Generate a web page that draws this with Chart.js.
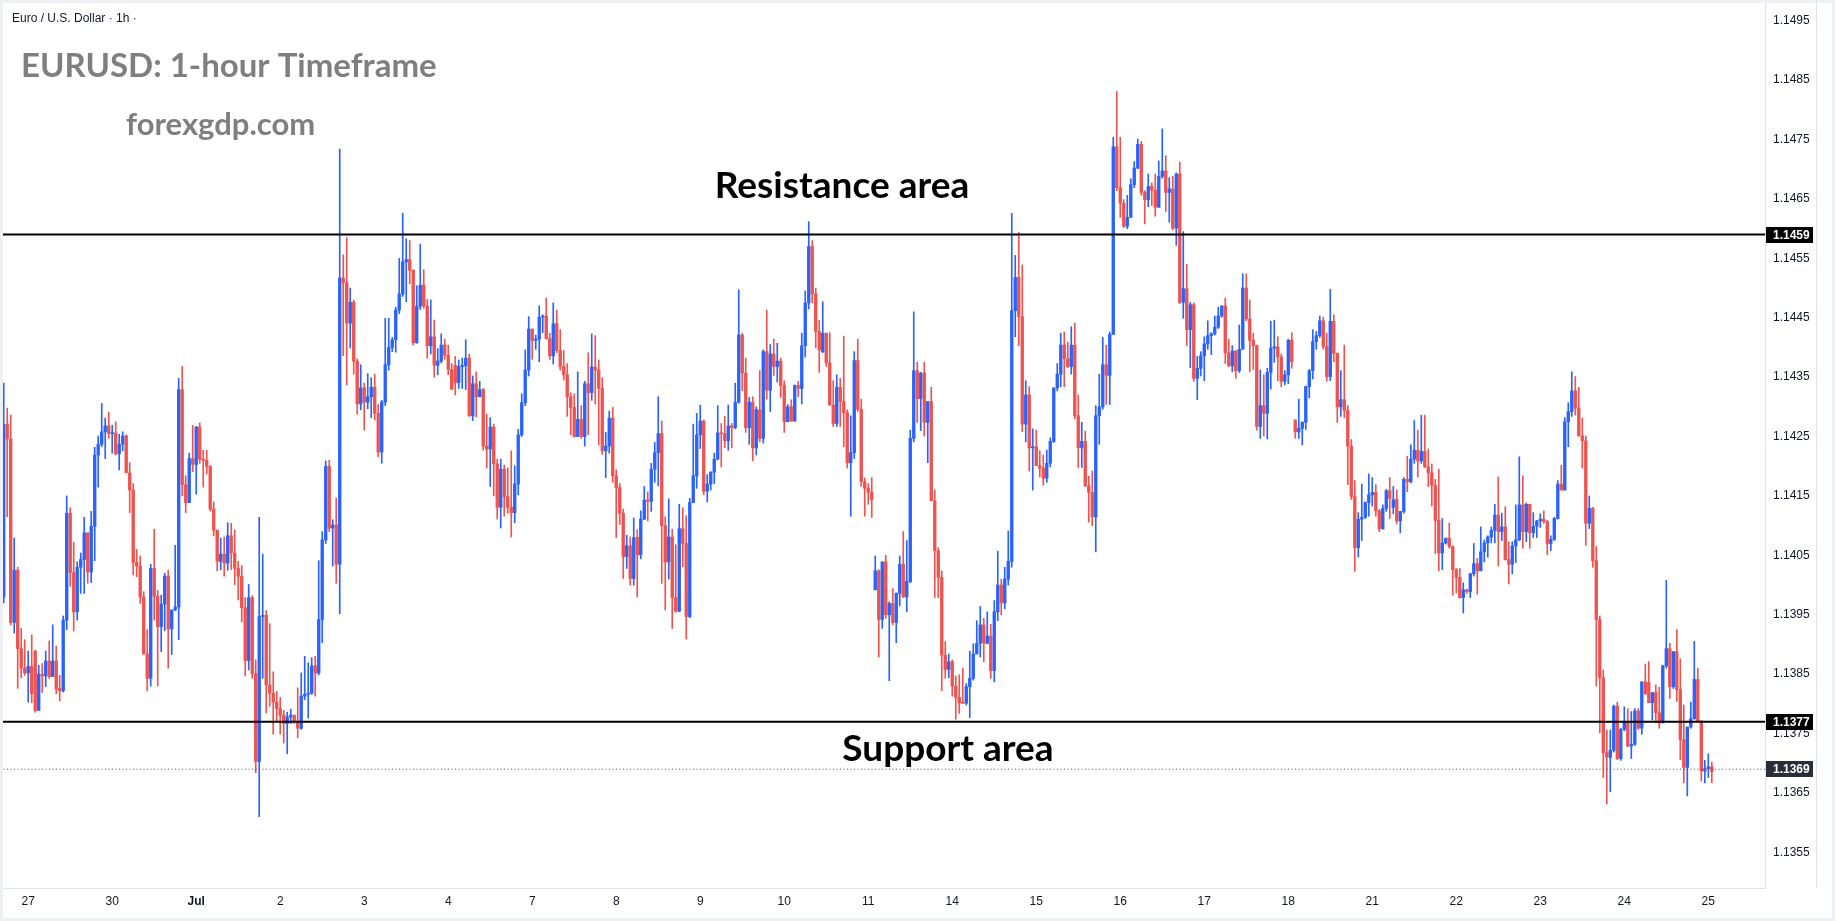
<!DOCTYPE html>
<html>
<head>
<meta charset="utf-8">
<title>EURUSD 1-hour</title>
<script src="https://cdn.jsdelivr.net/npm/chart.js@4.4.1/dist/chart.umd.min.js"></script>
<style>
  html, body { margin: 0; padding: 0; background: #fff; }
  canvas { display: block; }
</style>
</head>
<body>
<canvas id="chart" width="1835" height="921"></canvas>
<script>
// prices are stored as pips above 1.1300 (e.g. 159 -> 1.1459), one line per trading day
const BASE = 1.13;

const opens = [
  98,127.1,124.6,93.7,102.5,89.3,86.0,
  85.2,86.3,88.9,78.9,85.0,84.7,87.2,84.6,87.2,82.6,82.2,94.1,112.1,102.1,95.5,103.0,104.3,108.8,102.2,109.9,121.9,123.7,125.8,126.8,
  125.5,125.6,122.1,123.7,125.1,118.9,116.0,103.8,103.2,98.0,88.4,84.3,102.8,98.1,93.0,96.8,101.5,92.6,95.8,96.3,132.9,116.9,113.9,121.3,
  120.3,126.6,121.2,121.0,120.0,112.8,109.2,104.0,105.2,103.7,108.3,105.4,102.8,101.5,96.2,87.3,97.9,85.1,70.3,94.7,94.9,83.2,81.8,80.3,
  79.2,78.1,76.7,77.8,78.1,77.0,75.9,81.3,81.6,81.8,86.4,85.2,94.2,107.6,120.0,109.6,110.1,103.5,151.7,150.9,144.1,147.6,137.7,130.5,
  133.2,130.8,131.7,133.3,128.9,122.4,130.8,137.1,140.0,141.3,146.3,149.0,154.4,154.8,153.0,140.8,146.9,150.5,147.0,140.3,141.8,137.0,137.7,140.4,
  138.7,136.3,137.0,134.1,136.8,136.9,138.2,128.5,133.9,131.7,132.9,123.4,122.9,126.6,120.4,113.1,119.5,114.9,113.1,112.2,117.0,125.3,130.7,136.2,
  143.1,141.2,141.4,145.1,145.3,141.5,138.6,144.0,139.5,136.8,135.4,131.7,129.9,125.0,127.9,125.0,133.9,132.4,136.7,136.2,133.1,122.6,123.4,128.1,
  118.4,116.4,112.1,104.8,106.6,101.1,108.0,105.1,111.1,114.3,114.1,119.5,122.3,125.5,110.0,103.9,108.1,97.9,95.6,109.5,107.0,94.7,113.9,118.4,
  125.3,127.6,115.8,117.0,119.0,121.2,125.6,125.5,124.3,126.8,126.5,130.8,142.1,135.7,126.5,130.8,123.1,129.5,124.7,139.3,132.8,138.9,136.8,137.7,
  133.6,127.5,130.0,127.6,133.6,133.1,140.3,147.5,157.0,149.0,142.7,139.3,142.4,137.4,130.3,127.2,133.3,130.9,129.0,120.6,122.3,137.8,129.6,117.4,
  116.3,115.6,99.2,102.4,94.2,103.9,95.0,96.9,93.7,98.6,103.5,98.0,100.6,124.7,136.1,131.4,135.7,127.4,130.9,114.2,105.8,101.3,88.2,85.8,
  87.1,83.0,81.1,80.3,80.1,82.9,84.3,88.4,90.2,93.3,90.2,91.4,85.6,95.5,100.0,97.0,101.0,104.0,146.2,151.8,145.2,127.1,132.0,123.1,
  123.3,120.1,119.7,118.0,120.5,124.2,133.2,135.5,140.4,138.1,136.8,140.4,128.5,123.1,124.2,116.7,115.6,111.5,128.5,130.0,137.1,135.3,142.2,173.8,
  166.9,164.3,160.4,161.9,167.4,170.2,174.2,166.1,164.9,167.1,166.5,163.6,168.8,169.7,166.1,166.7,160.1,169.2,147.6,149.9,143.0,147.2,134.8,136.5,
  138.6,140.6,142.0,142.3,143.4,145.3,147.0,139.1,136.9,139.4,136.1,139.7,150.0,144.8,141.2,140.3,126.7,130.2,128.9,135.8,139.9,140.1,138.4,134.3,
  135.4,141.2,127.8,125.8,126.4,127.4,133.4,136.1,141.0,142.0,144.5,140.2,135.1,144.4,139.0,130.0,131.2,129.4,123.4,114.9,106.3,111.1,111.4,113.9,
  115.2,115.6,112.5,109.5,112.9,115.9,113.1,114.4,110.8,112.4,117.8,117.4,121.2,122.7,120.9,122.5,119.9,118.9,116.8,110.9,105.4,107.1,107.9,106.5,
  102.6,101.3,97.9,99.2,98.9,101.9,103.6,102.4,105.6,107.1,108.1,109.2,111.8,109.0,109.8,104.3,103.5,106.6,107.6,113.5,109.0,113.6,108.8,109.9,
  110.8,111.1,110.7,107.0,107.7,111.2,117.0,116.0,127.5,129.2,132.7,129.8,125.1,124.3,110.4,112.9,104.1,94.2,84.4,71.8,71.0,72.2,79.6,70.8,
  75.7,77.0,72.9,73.2,78.8,75.9,83.7,83.6,80.2,81.9,78.5,76.8,86.4,89.3,82.9,88.8,82.4,74.0,69.3,76.1,77.5,84.1,77.1,68.7,
  69.1,69.4
];

const highs = [
  134,129.8,128.6,107.9,103,92.7,90.8,
  88.9,91.6,89.0,86.5,86.8,88.9,90.6,93.3,89.7,84.8,94.8,115.0,113.0,107.2,103.9,105.4,111.4,108.8,112.4,123.2,125.1,130.6,128.1,129.1,
  126.9,127.5,125.4,125.8,125.3,120.6,117.1,106.0,104.9,98.9,92.5,103.5,109.4,99.1,98.3,102.0,102.5,95.8,106.7,134.8,136.8,118.4,122.2,126.9,
  126.7,127.3,122.7,122.7,120.1,114.0,109.3,107.9,108.1,110.5,110.4,109.3,104.0,103.3,97.9,100.1,98.2,87.4,111.4,105.2,95.7,93.5,85.4,82.1,
  81.1,78.9,78.6,79.1,78.1,82.7,85.2,88.0,86.9,87.8,88.0,104.1,109.0,120.9,121.0,111.0,114.7,173.4,155.6,158.5,150.0,148.0,138.1,137.1,
  134.0,135.6,134.9,135.5,130.4,131.1,144.9,144.9,141.7,146.8,155.0,162.6,158.3,158.0,153.1,150.4,157.4,153.1,148.1,148.0,144.6,139.8,142.3,141.4,
  140.4,137.3,138.5,137.9,138.2,141.3,138.9,135.2,135.9,134.3,133.1,128.8,128.2,127.1,121.2,121.2,120.2,119.7,122.6,120.1,126.2,132.2,139.6,145.2,
  143.1,142.1,147.0,145.5,148.3,142.4,147.5,146.3,143.0,139.5,137.3,132.4,132.2,135.9,130.2,134.3,139.1,142.3,142.0,137.9,134.9,125.7,129.3,129.9,
  119.4,117.1,112.8,108.4,108.1,111.3,109.3,112.5,116.6,115.7,120.5,124.0,131.7,127.6,111.5,114.5,109.4,106.8,113.6,113.0,111.7,114.6,127.1,128.9,
  130.3,127.8,118.6,119.1,122.2,130.2,127.2,128.4,130.3,127.2,134.0,149.7,142.4,138.2,131.6,131.7,130.0,136.1,139.6,146.3,140.5,141.4,140.7,138.2,
  134.4,130.4,131.2,133.7,134.3,142.4,149.5,161.2,158.0,150.0,144.6,147.7,142.4,142.5,134.4,135.4,134.8,141.9,129.5,128.5,139.3,141.4,131.3,118.0,
  117.1,118.1,104.9,102.6,103.9,105.0,97.2,99.4,98.7,104.9,109.0,107.5,126.1,146.0,137.5,135.8,137.5,130.9,133.3,116.0,106.3,102.4,90.5,88.4,
  87.4,84.7,84.9,86.0,83.4,88.9,90.1,94.0,96.4,94.4,95.5,93.4,97.4,105.7,101.0,103.0,109.1,162.6,155.5,159.4,153.9,134.4,133.4,126.3,
  126.1,122.6,121.9,122.7,124.8,133.2,137.3,142.4,142.6,140.9,143.5,144.1,132.0,127.4,125.9,118.3,119.2,130.2,135.5,141.7,140.4,142.6,175.4,183.1,
  175.4,164.9,165.6,168.4,171.3,175.1,174.7,166.4,169.2,167.7,169.2,171.4,176.8,172.3,168.6,168.8,169.4,171.2,159.5,154.0,147.6,147.5,138.5,139.3,
  141.8,144.5,142.5,145.3,146.8,147.0,148.3,141.4,140.3,139.5,143.8,152.4,152.4,148.0,142.4,140.4,136.2,135.4,136.5,144.4,144.6,141.8,138.9,136.1,
  141.4,142.5,127.8,131.3,127.5,133.5,136.3,143.0,142.7,145.3,145.1,142.4,149.8,145.5,139.1,136.1,140.4,130.2,124.5,117.6,112.2,117.0,114.0,118.7,
  118.1,116.9,112.7,113.5,116.1,118.1,116.6,116.0,112.4,118.1,121.7,123.6,127.7,126.1,128.6,128.6,122.9,120.4,117.8,119.5,111.2,107.9,110.4,106.6,
  102.8,102.8,100.4,99.3,102.0,107.0,104.5,109.8,107.6,108.3,109.8,113.6,118.2,112.1,113.2,107.3,107.3,113.5,121.6,118.4,113.8,113.6,112.2,110.9,
  112.0,112.5,110.9,108.3,111.4,117.6,120.2,128.2,130.7,135.9,135.1,133.3,128.1,125.1,115.0,113.1,106.5,94.8,85.7,75.6,75.6,79.8,80.3,75.9,
  79.5,79.2,78.7,79.2,79.2,83.7,86.7,87.1,81.9,83.2,82.8,86.5,100.8,90.2,88.8,92.5,87.6,79.8,76.1,80.3,90.5,86.0,77.2,70.5,
  71.6,70.2
];

const lows = [
  97,111.5,93.3,91.9,82.6,84.4,84.8,
  80.3,80.2,78.6,78.9,81.9,82.9,84.3,84.6,81.7,80.5,82.0,92.5,99.8,92.3,94.1,98.6,98.6,100.3,100.4,104.1,116.5,123.3,121.3,124.7,
  122.2,121.9,119.4,122.6,118.9,112.2,101.7,101.4,96.9,88.4,82.2,83.0,94.1,83.0,88.8,92.3,86.0,88.3,95.7,90.8,115.0,112.2,113.9,119.1,
  115.3,120.5,116.5,118.7,112.5,108.3,102.4,102.6,101.5,102.5,102.6,100.1,97.5,93.8,84.7,85.7,84.3,68.4,61.0,84.3,78.5,79.6,74.9,77.0,
  74.9,73.4,71.6,76.7,76.7,74.3,75.7,80.7,77.6,81.6,81.3,84.9,90.3,107.0,109.0,103.2,100.3,95.2,138.6,133.7,139.9,135.5,128.8,129.5,
  126.1,129.7,128.2,127.8,121.6,120.5,130.2,136.2,139.3,139.2,145.7,148.6,147.7,150.7,140.4,140.7,146.4,146.6,138.2,138.9,135.0,135.4,137.4,138.0,
  135.4,132.9,132.0,133.1,133.1,132.9,128.4,127.7,128.3,131.7,122.7,119.7,116.6,115.0,111.1,109.6,111.6,112.1,108.1,110.5,115.2,125.0,130.2,135.2,
  138.0,139.7,137.6,142.5,141.4,138.0,137.2,139.1,136.2,134.5,128.4,125.3,124.9,125.0,124.7,123.4,125.3,131.1,130.5,123.6,122.0,118.1,122.2,117.3,
  108.0,110.2,101.1,102.8,100.0,100.0,98.0,104.4,111.0,110.8,112.4,117.3,116.7,100.3,95.8,101.0,92.7,95.4,95.5,103.1,90.9,94.5,113.9,116.3,
  123.0,115.2,114.0,116.0,117.1,121.1,119.9,123.1,122.7,123.1,126.3,130.6,132.7,125.7,123.7,120.9,121.9,124.1,123.9,131.3,129.2,135.3,134.2,131.6,
  125.7,127.5,127.6,127.6,131.7,130.5,138.4,146.5,147.5,139.9,135.8,139.1,136.8,130.3,126.7,126.7,126.7,123.3,119.7,111.6,121.3,129.2,116.6,111.6,
  113.6,111.4,99.2,87.9,92.7,94.4,83.9,93.3,90.3,96.5,97.9,95.5,100.4,124.1,127.4,126.0,125.1,120.6,114.2,97.9,97.9,82.2,84.3,84.4,
  81.3,77.4,78.4,80.1,79.8,77.7,84.0,88.4,87.9,87.1,90.1,84.3,83.7,94.0,95.0,96.0,100.0,103.0,141.8,140.3,125.8,124.1,119.2,116.0,
  120.1,118.2,116.8,117.3,119.9,124.0,132.7,133.4,133.4,136.6,135.5,128.0,119.8,119.8,116.6,110.6,110.0,105.6,123.7,129.6,130.4,130.4,142.2,166.4,
  161.9,160.2,160.0,161.9,166.9,170.1,165.6,160.8,163.7,163.9,162.1,163.6,168.5,162.9,161.1,159.8,157.2,147.4,144.9,140.3,136.6,134.3,131.2,135.2,
  134.4,139.7,138.8,142.1,143.2,145.1,137.3,136.8,135.9,134.8,135.8,139.7,144.5,135.9,136.3,126.1,124.7,125.1,124.6,133.0,137.5,134.4,133.4,133.7,
  133.9,136.5,124.7,124.7,123.6,126.2,131.5,134.7,139.7,141.7,139.7,134.3,134.4,137.6,127.4,128.4,128.2,116.9,114.4,102.3,104.7,107.5,111.2,111.6,
  113.3,111.6,109.0,109.4,112.4,111.2,112.0,110.3,108.8,112.1,115.7,117.2,120.5,118.2,120.5,119.8,116.6,113.3,105.3,102.4,102.6,106.9,106.2,98.3,
  98.7,97.8,95.3,98.6,97.9,101.5,98.5,102.4,103.9,104.7,107.1,107.1,103.2,107.5,104.2,100.2,101.9,103.8,107.5,106.2,107.3,106.2,108.0,108.0,
  109.7,110.4,105.1,105.8,107.5,111.1,116.0,116.0,123.3,128.4,128.6,125.1,119.7,106.7,109.5,103.0,83.0,75.1,67.6,63.2,65.2,71.9,70.6,70.5,
  75.5,72.8,70.8,73.0,75.7,74.9,81.6,80.2,77.3,76.8,75.9,76.8,86.0,80.9,82.6,80.4,70.6,66.7,64.5,75.9,77.4,77.1,67.0,66.7,
  67.6,66.7
];

const closes = [
  127,124.6,93.7,102.5,89.3,86.0,85.2,
  86.3,81.7,78.9,85.0,84.7,87.2,84.6,87.2,82.5,82.2,94.1,112.1,102.1,95.5,103.0,104.3,108.8,102.2,109.9,121.9,123.7,125.8,126.8,125.5,
  125.6,122.1,123.7,125.1,118.9,116.0,103.8,103.2,98.0,88.4,84.3,102.8,98.1,93.0,96.8,101.5,92.6,95.8,96.3,132.9,116.9,113.9,121.3,120.3,
  126.6,121.2,121.0,120.0,112.8,109.2,104.0,105.2,103.7,108.3,105.4,102.8,101.5,96.2,87.3,97.9,85.1,70.3,94.7,94.9,83.2,81.8,80.3,79.2,
  78.1,76.7,77.8,78.1,77.0,75.9,81.3,81.6,81.8,86.4,85.2,94.2,107.6,120.0,109.6,110.1,103.5,151.7,150.9,144.1,147.6,137.7,130.5,133.2,
  130.8,131.7,133.3,128.9,122.4,130.8,137.1,140.0,141.3,146.3,149.0,154.4,154.8,153.0,140.8,146.9,150.5,147.0,140.3,141.8,137.0,137.7,140.4,138.7,
  136.3,133.0,134.1,136.8,136.9,138.2,128.5,133.9,131.7,132.9,123.4,122.9,126.6,120.4,113.1,119.5,114.9,113.1,112.2,117.0,125.3,130.7,136.2,143.1,
  141.2,141.4,145.1,145.3,141.5,138.6,144.0,139.5,136.8,135.4,131.7,129.9,125.0,127.9,125.0,133.9,132.4,136.7,136.2,133.1,122.6,123.4,128.1,118.4,
  116.4,112.1,104.8,106.6,101.1,108.0,105.1,111.1,114.3,114.1,119.5,122.3,125.5,110.0,103.9,108.1,97.9,95.6,109.5,107.0,94.7,113.9,118.4,125.3,
  127.6,115.8,117.0,119.0,121.2,125.6,125.5,124.3,126.8,126.5,130.8,142.1,135.7,126.5,130.8,123.1,129.5,124.7,139.3,132.8,138.9,136.8,137.7,133.6,
  127.5,130.0,127.6,133.6,133.1,140.3,147.5,157.0,149.0,142.7,139.6,142.4,137.4,130.3,127.2,133.3,130.9,129.0,120.6,122.3,137.8,129.6,117.4,116.3,
  115.6,114.4,102.4,94.2,103.9,95.0,96.9,93.7,98.6,103.5,98.0,100.6,124.7,136.1,131.4,135.7,127.4,130.9,114.2,105.8,101.3,88.2,85.8,87.1,
  83.0,81.1,80.2,80.1,82.9,84.3,88.4,90.2,93.3,90.2,91.4,85.6,95.5,100.0,97.0,101.0,104.0,146.2,151.8,145.2,127.1,132.0,123.1,123.3,
  120.1,119.7,118.0,120.5,124.2,133.2,135.5,140.4,138.1,136.8,140.4,128.5,123.1,124.2,116.7,115.6,111.5,128.5,130.0,137.1,135.3,142.2,173.8,166.9,
  164.3,160.4,161.9,167.4,170.2,174.2,166.1,164.9,167.1,166.5,163.6,168.8,169.7,166.1,166.7,160.1,169.2,147.6,149.9,143.0,147.2,134.8,136.5,138.6,
  140.6,142.0,142.3,143.4,145.3,147.0,139.1,136.9,139.4,136.1,139.7,150.0,144.8,141.2,140.3,126.7,130.2,128.9,135.8,139.9,140.1,138.4,134.3,135.4,
  141.2,137.6,125.8,126.4,127.4,133.4,136.1,141.0,142.0,144.5,140.2,135.1,144.4,139.0,130.0,131.2,129.4,123.4,114.9,106.3,111.1,111.4,113.9,115.2,
  115.6,112.5,109.5,112.9,115.9,114.6,114.4,110.8,112.4,117.8,117.4,121.2,122.7,120.9,122.5,119.9,118.9,116.8,110.9,105.4,107.1,107.9,106.5,102.6,
  101.3,97.9,99.2,98.9,101.9,103.6,102.4,105.6,107.1,108.1,109.2,111.8,109.0,109.8,104.3,103.5,106.6,107.6,113.5,109.0,113.6,108.8,109.9,110.8,
  111.1,110.7,107.0,107.7,111.2,117.0,116.0,127.5,129.2,132.7,129.8,125.1,124.3,110.4,112.9,104.1,94.2,84.4,71.8,71.0,72.2,79.6,70.8,75.7,
  77.0,72.9,73.2,78.8,75.9,83.7,81.7,80.2,81.9,78.5,76.8,86.4,89.3,82.9,88.8,82.4,74.0,69.3,76.1,77.5,84.1,77.1,68.7,69.1,
  69.4,68.6
];

// bar index where each day starts, and its label on the time axis
const dayTicks = [7,31,55,79,103,127,151,175,199,223,247,271,295,319,343,367,391,415,439,463,487];
const dayLabels = ['27','30','Jul','2','3','4','7','8','9','10','11','14','15','16','17','18','21','22','23','24','25'];

const priceTicks = [1.1355,1.1365,1.1375,1.1385,1.1395,1.1405,1.1415,1.1425,1.1435,1.1445,1.1455,1.1465,1.1475,1.1485,1.1495];

const resistance = 1.1459;
const support = 1.1377;
const lastPrice = 1.1369;

const UP = '#2962ff';
const DOWN = '#ef5350';
const X_MIN = -1.06, X_MAX = 503.2;
const Y_MIN = 1.13490, Y_MAX = 1.14985;
const AXIS_FONT = 'Liberation Sans, Arial, sans-serif';

const toPrice = v => BASE + v / 10000;
const bars = closes.map((c, i) => i);
const colors = bars.map(i => closes[i] >= opens[i] ? UP : DOWN);
const wickData = bars.map(i => ({ x: i, y: [toPrice(lows[i]), toPrice(highs[i])] }));
const bodyData = bars.map(i => ({ x: i, y: [toPrice(opens[i]), toPrice(closes[i])] }));
const levelLine = p => [{ x: X_MIN, y: p }, { x: X_MAX, y: p }];

const notes = [
  { text: 'Euro / U.S. Dollar \u00b7 1h \u00b7', x: 12, y: 22, font: '12px ' + AXIS_FONT, color: '#131722', align: 'left' },
  { text: 'EURUSD: 1-hour Timeframe', x: 21, y: 77, font: 'bold 33px Lato', color: '#7f7f7f', align: 'left' },
  { text: 'forexgdp.com', x: 126, y: 135, font: 'bold 31px Lato', color: '#7f7f7f', align: 'left' },
  { text: 'Resistance area', x: 842, y: 198, font: 'bold 37px Lato', color: '#000', align: 'center' },
  { text: 'Support area', x: 948, y: 761, font: 'bold 37px Lato', color: '#000', align: 'center' }
];

const priceTags = [
  { price: resistance, bg: '#000000' },
  { price: support, bg: '#000000' },
  { price: lastPrice, bg: '#2a2e39' }
];

// keep the plot flush with the widget edges, as in the screenshot
const noScalePadding = s => {
  s.paddingLeft = 0; s.paddingRight = 0; s.paddingTop = 0; s.paddingBottom = 0;
};

const overlay = {
  id: 'overlay',
  beforeDraw(chart) {
    const ctx = chart.ctx;
    ctx.save();
    ctx.fillStyle = '#ffffff';
    ctx.fillRect(0, 0, chart.width, chart.height);
    ctx.restore();
  },
  afterDraw(chart) {
    const ctx = chart.ctx;
    const y = chart.scales.y;
    const left = chart.chartArea.right;
    ctx.save();
    priceTags.forEach(t => {
      const py = Math.round(y.getPixelForValue(t.price));
      ctx.fillStyle = t.bg;
      ctx.fillRect(left + 1, py - 8, 47, 16);
      ctx.fillStyle = '#ffffff';
      ctx.font = 'bold 12px ' + AXIS_FONT;
      ctx.textAlign = 'left';
      ctx.textBaseline = 'middle';
      ctx.fillText(t.price.toFixed(4), left + 8, py + 0.5);
    });
    notes.forEach(n => {
      ctx.font = n.font;
      ctx.fillStyle = n.color;
      ctx.textAlign = n.align;
      ctx.textBaseline = 'alphabetic';
      ctx.fillText(n.text, n.x, n.y);
    });
    // light frame round the widget
    ctx.strokeStyle = '#eef0f4';
    ctx.lineWidth = 3;
    ctx.strokeRect(1.5, 1.5, chart.width - 3, chart.height - 3);
    ctx.strokeStyle = '#e0e3eb';
    ctx.lineWidth = 1;
    ctx.beginPath();
    ctx.moveTo(1816.5, 0);
    ctx.lineTo(1816.5, chart.chartArea.bottom);
    ctx.stroke();
    ctx.restore();
  }
};

new Chart(document.getElementById('chart'), {
  type: 'bar',
  data: {
    datasets: [
      {
        type: 'line', data: levelLine(resistance), borderColor: '#000', borderWidth: 2,
        pointRadius: 0, order: 0
      },
      {
        type: 'line', data: levelLine(support), borderColor: '#000', borderWidth: 2,
        pointRadius: 0, order: 0
      },
      {
        type: 'line', data: levelLine(lastPrice), borderColor: '#4a4e59', borderWidth: 1,
        borderDash: [1, 2.5], pointRadius: 0, order: 0
      },
      {
        label: 'body', data: bodyData, backgroundColor: colors, borderWidth: 0,
        barThickness: 2.7, minBarLength: 1, grouped: false, order: 1
      },
      {
        label: 'wick', data: wickData, backgroundColor: colors, borderWidth: 0,
        barThickness: 1, minBarLength: 1, grouped: false, order: 2
      }
    ]
  },
  options: {
    responsive: false,
    animation: false,
    devicePixelRatio: 1,
    layout: { padding: 0 },
    plugins: { legend: { display: false }, tooltip: { enabled: false } },
    scales: {
      x: {
        type: 'linear', min: X_MIN, max: X_MAX, offset: false,
        grid: { display: false, drawTicks: false, offset: false },
        border: { color: '#e0e3eb' },
        afterBuildTicks: s => { s.ticks = dayTicks.map(v => ({ value: v })); },
        afterFit: s => { s.height = 33; noScalePadding(s); },
        ticks: {
          autoSkip: false, maxRotation: 0, padding: 6, color: '#131722',
          font: c => ({ family: AXIS_FONT, size: 12, weight: c.tick && c.tick.value === 55 ? 'bold' : 'normal' }),
          callback: v => dayLabels[dayTicks.indexOf(v)]
        }
      },
      y: {
        position: 'right', min: Y_MIN, max: Y_MAX,
        grid: { display: false, drawTicks: false },
        border: { color: '#e0e3eb' },
        afterBuildTicks: s => { s.ticks = priceTicks.map(v => ({ value: v })); },
        afterFit: s => { s.width = 70; noScalePadding(s); },
        ticks: {
          padding: 8, color: '#131722', font: { family: AXIS_FONT, size: 12 },
          callback: v => v.toFixed(4)
        }
      }
    }
  },
  plugins: [overlay]
});
</script>
</body>
</html>
